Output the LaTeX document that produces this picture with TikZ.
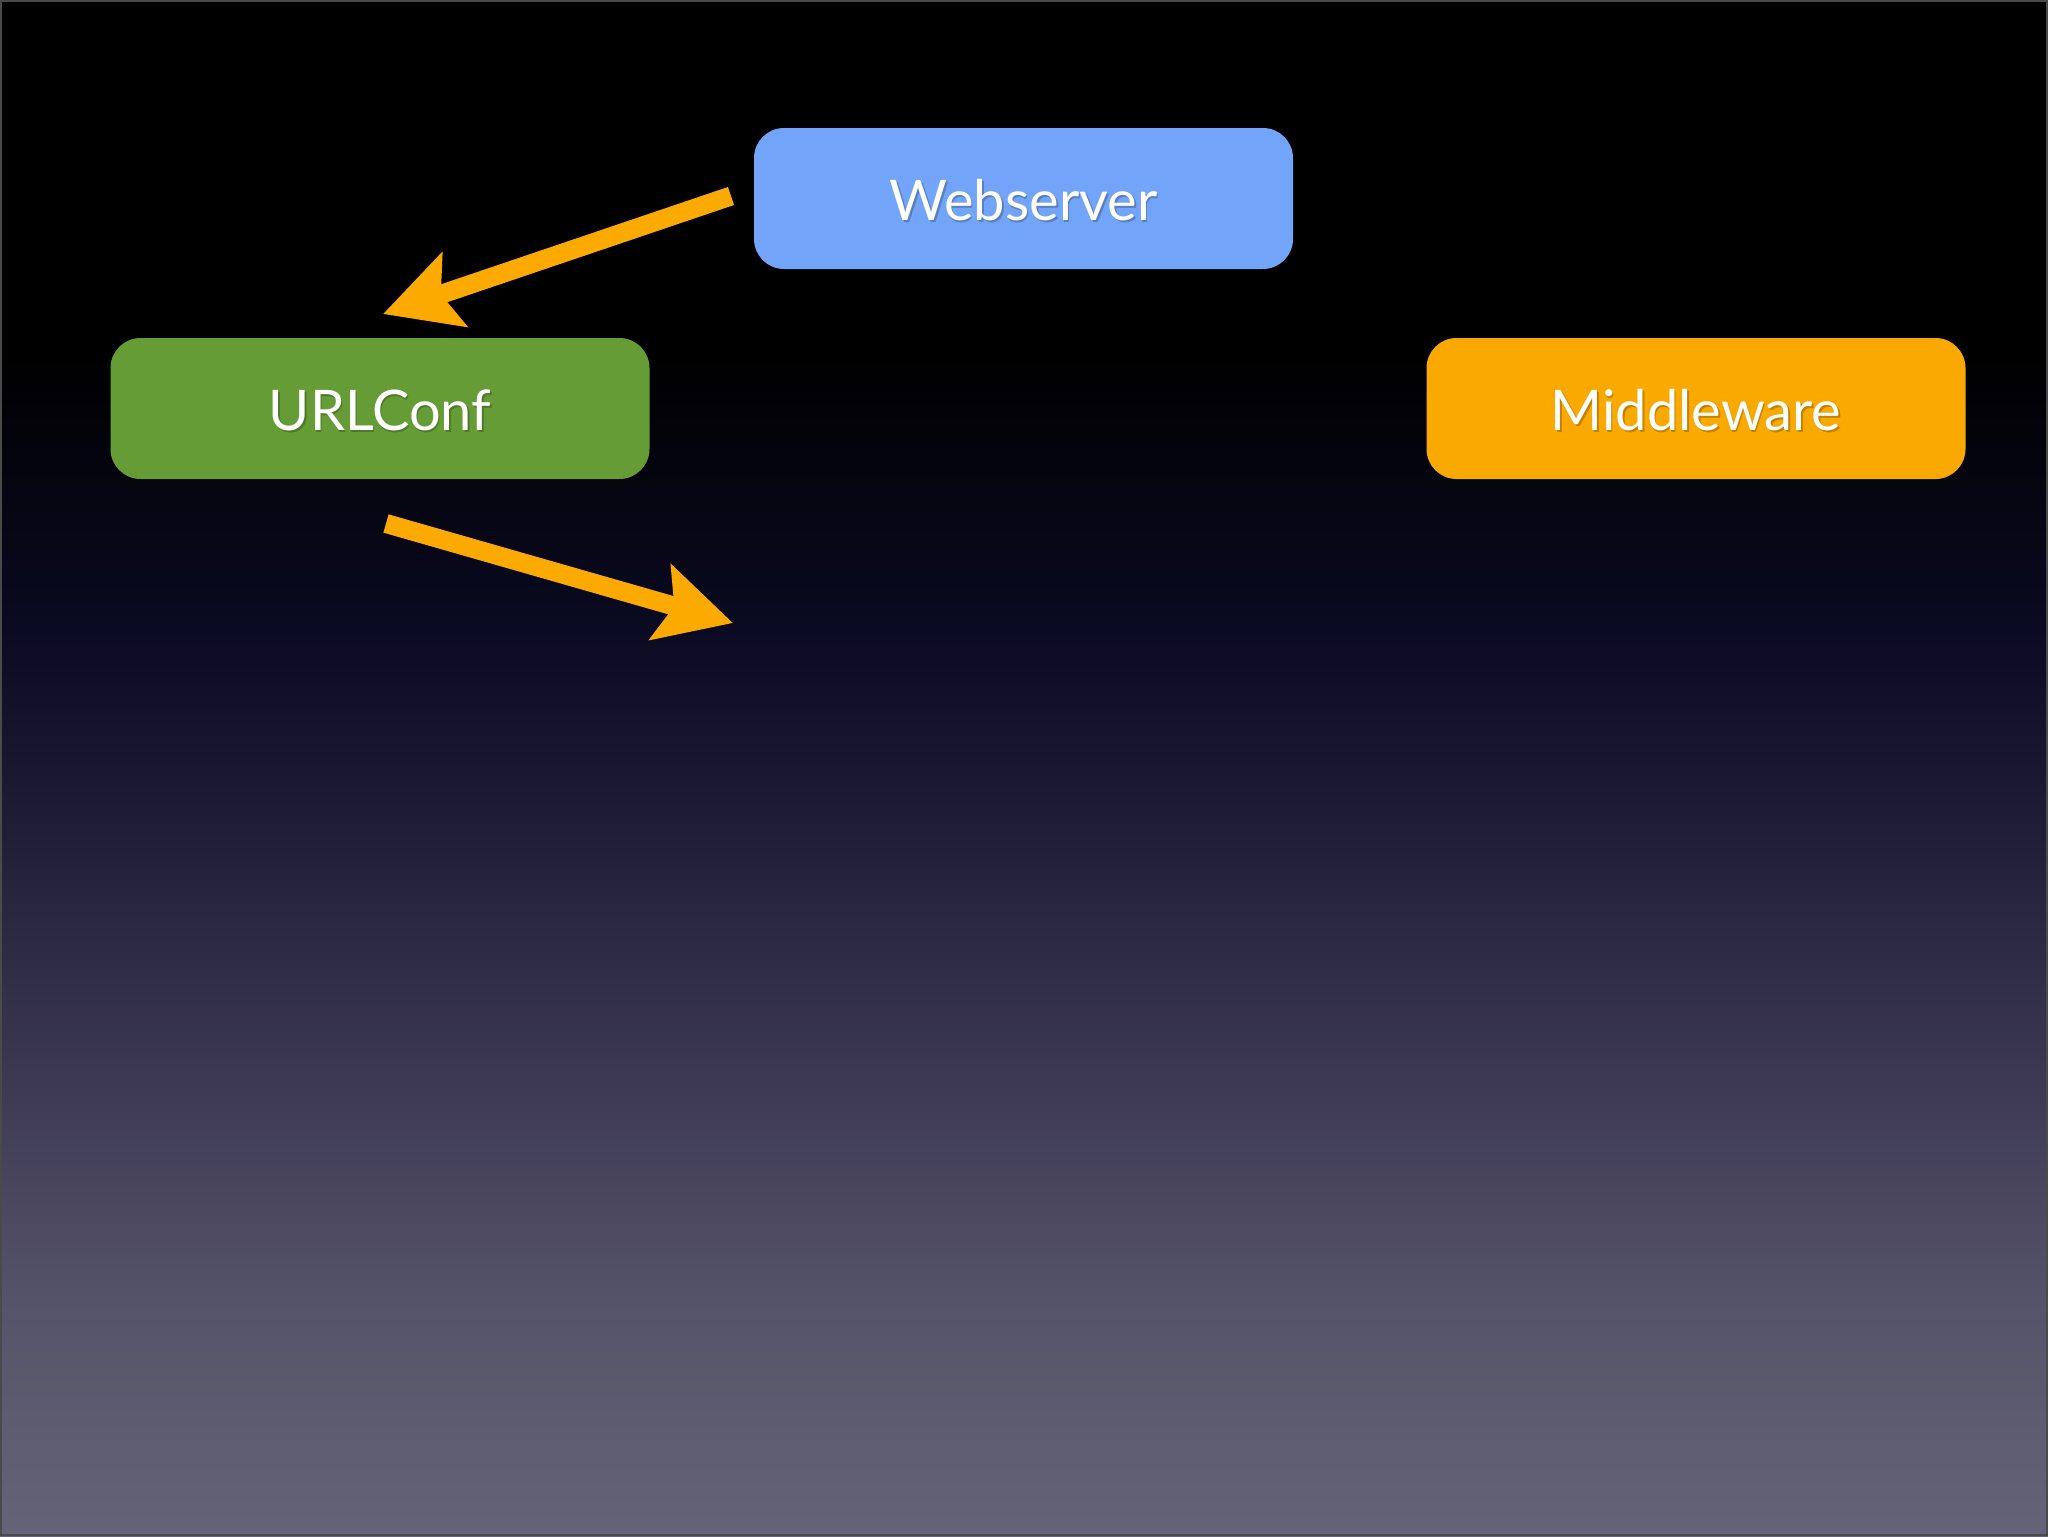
\documentclass[tikz,border=0pt]{standalone}
\usepackage{fontspec}
\setmainfont{Lato}
\usetikzlibrary{arrows.meta}
\definecolor{webblue}{HTML}{72A4F9}
\definecolor{urlgreen}{HTML}{669C35}
\definecolor{midorange}{HTML}{FAA900}
\definecolor{arroworange}{HTML}{FDAA00}
\definecolor{bgA}{HTML}{0A0A22}
\definecolor{bgB}{HTML}{28253E}
\definecolor{bgC}{HTML}{3F3B55}
\definecolor{bgD}{HTML}{555369}
\definecolor{bgE}{HTML}{656377}
\definecolor{edge}{HTML}{4A4A4A}
\tikzset{
  box/.style={rounded corners=15pt, minimum width=269.5pt, minimum height=70.5pt, inner sep=0pt},
  lbl/.style={text=white, font=\fontsize{28}{32}\selectfont, anchor=base, inner sep=0pt},
  shadowlbl/.style={text=black, opacity=0.22, font=\fontsize{28}{32}\selectfont, anchor=base, inner sep=0pt},
  flow/.style={draw=arroworange, line width=9.5pt, line cap=butt,
    -{Stealth[length=37.5pt, width=38.5pt, inset=7pt]}}
}
\begin{document}
\begin{tikzpicture}[x=0.5pt,y=-0.5pt]
\useasboundingbox (0,0) rectangle (2048,1536);
% background
\fill[black] (0,0) rectangle (2048,351);
\shade[top color=black, bottom color=bgA] (0,350) rectangle (2048,631);
\shade[top color=bgA, bottom color=bgB] (0,630) rectangle (2048,901);
\shade[top color=bgB, bottom color=bgC] (0,900) rectangle (2048,1101);
\shade[top color=bgC, bottom color=bgD] (0,1100) rectangle (2048,1301);
\shade[top color=bgD, bottom color=bgE] (0,1300) rectangle (2048,1536);
\draw[edge, line width=1pt] (1,1) rectangle (2047,1535);
% boxes
\node[box, fill=webblue] (web) at (1023.5,198.5) {};
\node[box, fill=urlgreen] (url) at (380,408.5) {};
\node[box, fill=midorange] (mid) at (1696,408.5) {};
% labels
\node[shadowlbl] (webs) at ([xshift=0.75pt,yshift=-1.25pt]1023.5,220) {Webserver};
\node[lbl] (webt) at (1023.5,220) {Webserver};
\node[shadowlbl] (urls) at ([xshift=0.75pt,yshift=-1.25pt]380,430) {URLConf};
\node[lbl] (urlt) at (380,430) {URLConf};
\node[shadowlbl] (mids) at ([xshift=0.75pt,yshift=-1.25pt]1696,430) {Middleware};
\node[lbl] (midt) at (1696,430) {Middleware};
% arrows
\coordinate (a1s) at (731,196);
\coordinate (a1e) at (383,314);
\coordinate (a2s) at (386,523.5);
\coordinate (a2e) at (733,623);
\draw[flow] (a1s) -- (a1e);
\draw[flow] (a2s) -- (a2e);
\end{tikzpicture}
\end{document}
